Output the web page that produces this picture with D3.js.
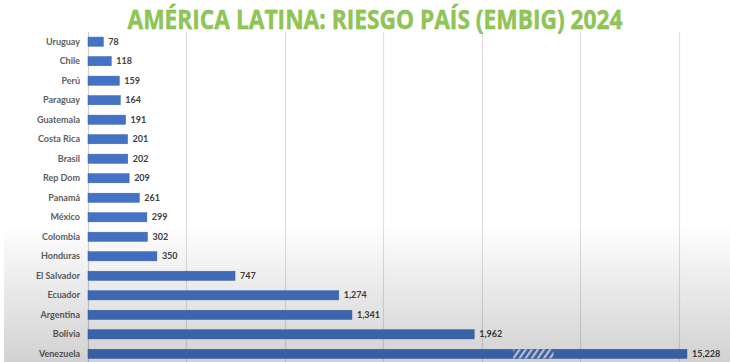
<!DOCTYPE html>
<html>
<head>
<meta charset="utf-8">
<script src="https://cdn.jsdelivr.net/npm/d3@7"></script>
<style>
  html, body { margin: 0; padding: 0; background: #fff; }
  svg { display: block; }
</style>
</head>
<body>
<div id="chart"></div>
<script>
// data
const countries = ["Uruguay", "Chile", "Perú", "Paraguay", "Guatemala", "Costa Rica", "Brasil",
  "Rep Dom", "Panamá", "México", "Colombia", "Honduras", "El Salvador", "Ecuador",
  "Argentina", "Bolivia", "Venezuela"];
const riesgo = [78, 118, 159, 164, 191, 201, 202, 209, 261, 299, 302, 350, 747, 1274, 1341, 1962, 15228];
const xTicks = [0, 500, 1000, 1500, 2000, 2500, 3000];

const title = "AMÉRICA LATINA: RIESGO PAÍS (EMBIG) 2024";

// the Venezuela bar is cut (broken axis)
const barCap = 3043;
const breakFrom = 2160, breakTo = 2365;

const W = 730, H = 362;

const svg = d3.select("#chart").append("svg")
  .attr("width", W)
  .attr("height", H);

const defs = svg.append("defs");

const shade = defs.append("linearGradient")
  .attr("id", "shade")
  .attr("x1", 0).attr("y1", 0).attr("x2", 0).attr("y2", 1);
shade.append("stop").attr("offset", "0%").attr("stop-color", "#000").attr("stop-opacity", 0);
shade.append("stop").attr("offset", "100%").attr("stop-color", "#000").attr("stop-opacity", 0.18);

const hatch = defs.append("pattern")
  .attr("id", "hatch")
  .attr("patternUnits", "userSpaceOnUse")
  .attr("width", 5).attr("height", 5)
  .attr("patternTransform", "rotate(35)");
hatch.append("rect").attr("width", 5).attr("height", 5).attr("fill", "#4472c4");
hatch.append("rect").attr("width", 2.2).attr("height", 5).attr("fill", "#dfe6f3");

svg.append("rect").attr("width", W).attr("height", H).attr("fill", "#fff");

const x = d3.scaleLinear().domain([0, 3000]).range([88, 678.5]);
const y = d3.scaleBand().domain(countries).range([32, 363.5]).paddingInner(0.53).paddingOuter(0.26);

// grid
svg.append("g")
  .selectAll("line")
  .data(xTicks)
  .join("line")
  .attr("x1", d => Math.round(x(d)) + 0.5)
  .attr("x2", d => Math.round(x(d)) + 0.5)
  .attr("y1", 32)
  .attr("y2", H)
  .attr("stroke", d => d === 0 ? "#d0d0d0" : "#e0e0e0")
  .attr("stroke-width", 1.2);

const data = countries.map((c, i) => ({ c, v: riesgo[i] }));

// bars
svg.append("g")
  .selectAll("rect")
  .data(data)
  .join("rect")
  .attr("x", x(0))
  .attr("y", d => y(d.c))
  .attr("width", d => x(Math.min(d.v, barCap)) - x(0))
  .attr("height", y.bandwidth())
  .attr("fill", "#4472c4")
  .attr("stroke", "#3a64b0")
  .attr("stroke-width", 0.5);

// break mark on the cut bar
const cut = data.filter(d => d.v > barCap);
svg.append("g")
  .selectAll("rect")
  .data(cut)
  .join("rect")
  .attr("x", x(breakFrom))
  .attr("y", d => y(d.c))
  .attr("width", x(breakTo) - x(breakFrom))
  .attr("height", y.bandwidth())
  .attr("fill", "url(#hatch)");

// category labels
const yAxis = svg.append("g")
  .attr("transform", "translate(" + (x(0) - 8) + ",0)")
  .call(d3.axisLeft(y).tickSize(0).tickPadding(0));
yAxis.select(".domain").remove();
yAxis.selectAll("text")
  .attr("font-family", "Lato, 'Liberation Sans', sans-serif")
  .attr("font-size", 9)
  .attr("font-weight", "bold")
  .attr("fill", "#606060");

// value labels
svg.append("g")
  .selectAll("text")
  .data(data)
  .join("text")
  .attr("x", d => x(Math.min(d.v, barCap)) + 5)
  .attr("y", d => y(d.c) + y.bandwidth() / 2)
  .attr("dy", "0.35em")
  .attr("font-family", "Lato, 'Liberation Sans', sans-serif")
  .attr("font-size", 9)
  .attr("font-weight", "bold")
  .attr("fill", "#404040")
  .text(d => d3.format(",")(d.v));

// soft grey shading at the bottom
svg.append("rect")
  .attr("x", 4)
  .attr("y", 225)
  .attr("width", W - 4)
  .attr("height", H - 225)
  .attr("fill", "url(#shade)")
  .attr("pointer-events", "none");

// title
svg.append("text")
  .attr("x", 375)
  .attr("y", 28.5)
  .attr("text-anchor", "middle")
  .attr("font-family", "'Liberation Sans Narrow', 'Open Sans', sans-serif")
  .attr("font-size", 27)
  .attr("font-weight", "bold")
  .attr("textLength", 495)
  .attr("lengthAdjust", "spacingAndGlyphs")
  .attr("fill", "#8fc655")
  .attr("stroke", "#7fb646")
  .attr("stroke-width", 0.4)
  .text(title);
</script>
</body>
</html>
